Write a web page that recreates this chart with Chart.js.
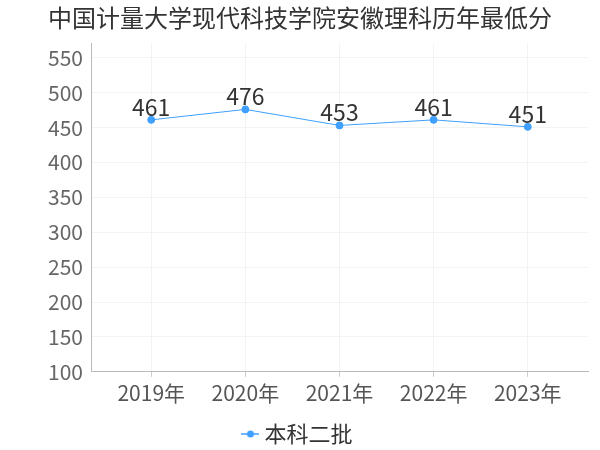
<!DOCTYPE html>
<html><head><meta charset="utf-8">
<script src="https://cdn.jsdelivr.net/npm/chart.js@4/dist/chart.umd.min.js"></script>
<style>html,body{margin:0;padding:0;background:#fff}#c{display:block}</style>
</head><body>
<canvas id="c" width="600" height="450"></canvas>
<script>
const titleText = "中国计量大学现代科技学院安徽理科历年最低分";
const years = [2019, 2020, 2021, 2022, 2023];
const scores = [461, 476, 453, 461, 451];
const seriesName = "本科二批";
const yTicks = [100, 150, 200, 250, 300, 350, 400, 450, 500, 550];

const FONT = "'Noto Sans CJK SC', sans-serif";
const BLUE = "#3fa0ff";

// legend marker: short line with a dot
const marker = document.createElement('canvas');
marker.width = 18; marker.height = 10;
(function () {
  const m = marker.getContext('2d');
  m.strokeStyle = BLUE; m.lineWidth = 1.5;
  m.beginPath(); m.moveTo(0, 5); m.lineTo(18, 5); m.stroke();
  m.fillStyle = BLUE;
  m.beginPath(); m.arc(9, 5, 3.5, 0, Math.PI * 2); m.fill();
})();

const labelPlugin = {
  id: 'pointLabels',
  afterDatasetsDraw(chart) {
    const ctx = chart.ctx;
    const meta = chart.getDatasetMeta(0);
    ctx.save();
    ctx.font = "23px " + FONT;
    ctx.fillStyle = "#333";
    ctx.textAlign = "center";
    ctx.textBaseline = "alphabetic";
    meta.data.forEach((pt, i) => {
      ctx.fillText(String(scores[i]), pt.x, pt.y - 4);
    });
    ctx.restore();
  }
};

new Chart(document.getElementById('c'), {
  type: 'line',
  data: {
    datasets: [{
      label: seriesName,
      data: years.map((y, i) => ({x: y, y: scores[i]})),
      borderColor: BLUE,
      backgroundColor: BLUE,
      borderWidth: 1,
      pointRadius: 3.5,
      pointBackgroundColor: BLUE,
      pointBorderColor: BLUE,
      tension: 0
    }]
  },
  options: {
    responsive: false,
    devicePixelRatio: 1,
    animation: false,
    layout: {padding: {left: 0, right: 0, top: 0, bottom: -5}},
    plugins: {
      title: {
        display: true, text: titleText, color: "#333",
        font: {family: FONT, size: 24, weight: 'normal'},
        padding: {top: 3, bottom: 12}
      },
      legend: {
        position: 'bottom',
        labels: {
          color: "#333",
          font: {family: FONT, size: 22},
          usePointStyle: true,
          pointStyleWidth: 6,
          generateLabels: chart => [{
            text: seriesName,
            pointStyle: marker,
            fillStyle: BLUE,
            strokeStyle: BLUE,
            fontColor: "#333",
            lineWidth: 0,
            datasetIndex: 0,
            hidden: false
          }],
          padding: 13
        }
      },
      tooltip: {enabled: false}
    },
    scales: {
      x: {
        type: 'linear',
        min: 2018.36, max: 2023.64,
        afterBuildTicks: s => { s.ticks = years.map(v => ({value: v})); },
        ticks: {
          color: "#555",
          font: {family: FONT, size: 21},
          callback: v => v + "年",
          padding: 4,
          maxRotation: 0
        },
        grid: {color: "#f3f3f3", drawTicks: true, tickLength: 5, tickColor: "#ccc"},
        border: {color: "#bbb"}
      },
      y: {
        min: 100, max: 570,
        afterBuildTicks: s => { s.ticks = yTicks.map(v => ({value: v})); },
        afterFit: s => { s.width = 91; },
        ticks: {
          color: "#666",
          font: {family: FONT, size: 21},
          padding: 8
        },
        grid: {color: "#f3f3f3", drawTicks: false},
        border: {color: "#bbb"}
      },
      yRightSpace: {
        position: 'right',
        min: 100, max: 570,
        afterFit: s => { s.width = 12; },
        ticks: {display: false},
        grid: {display: false},
        border: {display: false}
      }
    }
  },
  plugins: [labelPlugin]
});
</script>
</body></html>
